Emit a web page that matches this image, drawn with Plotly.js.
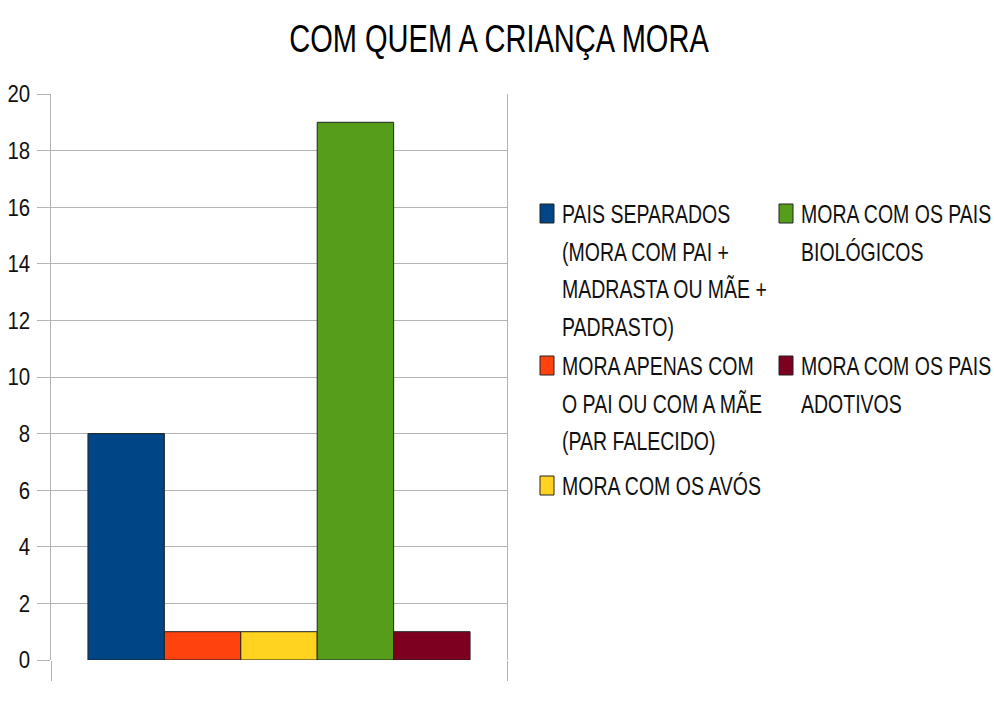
<!DOCTYPE html>
<html>
<head>
<meta charset="utf-8">
<script src="https://cdn.plot.ly/plotly-3.0.1.min.js"></script>
<style>html,body{margin:0;padding:0;background:#fff;}#chart{width:994px;height:704px;}</style>
</head>
<body>
<div id="chart"></div>
<script>
// ---- data ----
const chartTitle = 'COM QUEM A CRIANÇA MORA';
const seriesNames = [
  'PAIS SEPARADOS (MORA COM PAI + MADRASTA OU MÃE + PADRASTO)',
  'MORA APENAS COM O PAI OU COM A MÃE (PAR FALECIDO)',
  'MORA COM OS AVÓS',
  'MORA COM OS PAIS BIOLÓGICOS',
  'MORA COM OS PAIS ADOTIVOS'
];
const seriesValues = [8, 1, 1, 19, 1];
const seriesColors = ['#004586', '#ff420e', '#ffd320', '#579d1c', '#7e0021'];
const legendLines = [
  ['PAIS SEPARADOS', '(MORA COM PAI +', 'MADRASTA OU MÃE +', 'PADRASTO)'],
  ['MORA APENAS COM', 'O PAI OU COM A MÃE', '(PAR FALECIDO)'],
  ['MORA COM OS AVÓS'],
  ['MORA COM OS PAIS', 'BIOLÓGICOS'],
  ['MORA COM OS PAIS', 'ADOTIVOS']
];
const yTickValues = [0, 2, 4, 6, 8, 10, 12, 14, 16, 18, 20];

// ---- layout helpers (pixel -> paper) ----
const W = 994, H = 704;
const M = {l: 51, r: 487, t: 94, b: 44};
const PW = W - M.l - M.r, PH = H - M.t - M.b;
const px = x => (x - M.l) / PW;
const py = y => (H - M.b - y) / PH;

const FONT = '"Liberation Sans", Arial, sans-serif';

const traces = seriesNames.map((name, i) => ({
  type: 'bar',
  name: name,
  x: [0],
  y: [seriesValues[i]],
  marker: {color: seriesColors[i], line: {color: '#222', width: 1}},
  showlegend: false,
  hoverinfo: 'y+name'
}));

// legend entry anchor: left x of swatch, center y of first text line
const legendPos = [
  {x: 540, y: 214}, {x: 540, y: 366}, {x: 540, y: 486},
  {x: 779, y: 214}, {x: 779, y: 366}
];
const lineGap = 37.5;
const annotations = [];
const shapes = [];
legendLines.forEach((lines, i) => {
  const p = legendPos[i];
  shapes.push({
    type: 'rect', xref: 'paper', yref: 'paper',
    x0: px(p.x), x1: px(p.x + 14), y0: py(p.y - 10), y1: py(p.y + 9),
    fillcolor: seriesColors[i], line: {color: '#222', width: 1}
  });
  lines.forEach((t, k) => {
    annotations.push({
      xref: 'paper', yref: 'paper', x: px(p.x + 20), y: py(p.y + k * lineGap),
      xanchor: 'left', yanchor: 'middle', showarrow: false, text: t,
      font: {family: FONT, size: 25, color: '#111'}
    });
  });
});

const layout = {
  width: W, height: H,
  margin: M,
  paper_bgcolor: '#ffffff', plot_bgcolor: '#ffffff',
  title: {text: chartTitle, x: 0.502, xanchor: 'center', y: 0.945, yanchor: 'middle',
          font: {family: FONT, size: 39, color: '#000'}},
  barmode: 'group', bargap: 0.162, bargroupgap: 0,
  showlegend: false,
  xaxis: {type: 'linear', range: [-0.5, 0.5], showgrid: false, zeroline: false,
          showline: false, tickmode: 'array', tickvals: [-0.5, 0.5], ticktext: ['', ''],
          ticks: 'outside', ticklen: 20, tickcolor: '#b3b3b3', tickwidth: 1, fixedrange: true},
  yaxis: {range: [0, 20], tickmode: 'array', tickvals: yTickValues,
          ticktext: yTickValues.map(String), showgrid: true, gridcolor: '#b3b3b3', gridwidth: 1,
          zeroline: false, showline: true, linecolor: '#b3b3b3', linewidth: 1, mirror: true,
          ticks: 'outside', ticklen: 13, tickcolor: '#b3b3b3',
          tickfont: {family: FONT, size: 24, color: '#111'}, ticklabelstandoff: 2},
  shapes: shapes,
  annotations: annotations
};

// horizontally condense rendered text (the reference uses a very narrow face)
function condense(el, s, anchor) {
  const b = el.getBBox();
  const x0 = anchor === 'left' ? b.x : anchor === 'right' ? b.x + b.width : b.x + b.width / 2;
  const prev = el.getAttribute('transform') || '';
  el.setAttribute('transform', prev + ' translate(' + x0 + ' 0) scale(' + s + ' 1) translate(' + (-x0) + ' 0)');
}

const gd = document.getElementById('chart');
Plotly.newPlot(gd, traces, layout, {displayModeBar: false, staticPlot: true}).then(() => {
  gd.querySelectorAll('.gtitle').forEach(el => condense(el, 0.745, 'center'));
  gd.querySelectorAll('.ytick text').forEach(el => condense(el, 0.85, 'right'));
  gd.querySelectorAll('.annotation-text').forEach(el => condense(el, 0.78, 'left'));
});
</script>
</body>
</html>
